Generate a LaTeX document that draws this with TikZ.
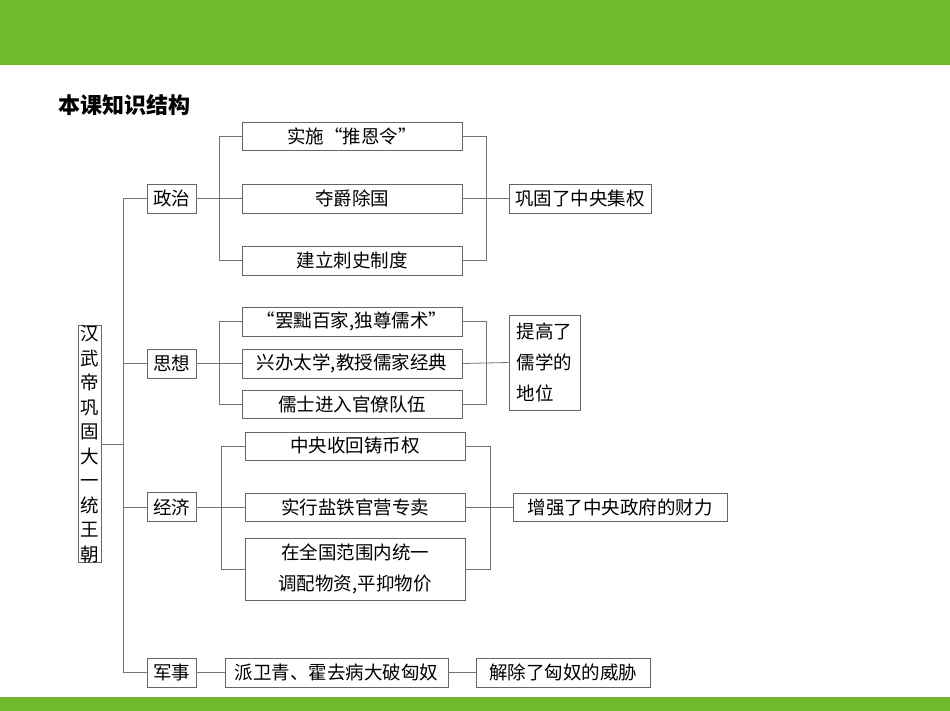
\documentclass[tikz,border=0pt]{standalone}
\usepackage{fontspec}
\setmainfont{Noto Sans CJK SC}
\begin{document}
\begin{tikzpicture}[x=1pt,y=-1pt,
 bx/.style={draw=black!60,line width=0.8pt,inner sep=0pt,font=\fontsize{18.5}{22}\selectfont},
 ln/.style={draw=black!55,line width=0.8pt}]
\useasboundingbox (0,0) rectangle (950,711);
\fill[fill={rgb,255:red,112;green,185;blue,45}] (0,0) rectangle (950,65);
\fill[fill={rgb,255:red,112;green,185;blue,45}] (0,697) rectangle (950,711);
\node[anchor=west,font=\fontsize{22}{26}\selectfont\bfseries] (title) at (55,105) {本课知识结构};
% root
\node[bx,minimum width=23,minimum height=216,align=center,font=\fontsize{18.5}{24.5}\selectfont] (root) at (89.5,444) {汉\\武\\帝\\巩\\固\\大\\一\\统\\王\\朝};
% categories
\node[bx,minimum width=49,minimum height=29] (zz) at (171.5,198.5) {政治};
\node[bx,minimum width=49,minimum height=29] (sx) at (171.5,363.5) {思想};
\node[bx,minimum width=49,minimum height=29] (jj) at (171.5,507) {经济};
\node[bx,minimum width=49,minimum height=29] (js) at (171.5,672.5) {军事};
% politics
\node[bx,minimum width=220,minimum height=28] (z1) at (352,136) {实施“推恩令”};
\node[bx,minimum width=220,minimum height=29] (z2) at (352,198.5) {夺爵除国};
\node[bx,minimum width=220,minimum height=29] (z3) at (352,260.5) {建立刺史制度};
\node[bx,minimum width=142,minimum height=29] (zr) at (580,198.5) {巩固了中央集权};
% thought
\node[bx,minimum width=220,minimum height=29] (s1) at (352,321.5) {“罢黜百家,独尊儒术”};
\node[bx,minimum width=220,minimum height=29] (s2) at (352,363.5) {兴办太学,教授儒家经典};
\node[bx,minimum width=220,minimum height=28] (s3) at (352,404) {儒士进入官僚队伍};
\node[bx,minimum width=71,minimum height=95,align=left,font=\fontsize{18.5}{31}\selectfont] (sr) at (544.5,362.5) {提高了\\儒学的\\地位};
% economy
\node[bx,minimum width=220,minimum height=28] (j1) at (355,446) {中央收回铸币权};
\node[bx,minimum width=220,minimum height=28] (j2) at (355,507) {实行盐铁官营专卖};
\node[bx,minimum width=220,minimum height=62,align=center,font=\fontsize{18.5}{31}\selectfont] (j3) at (355,569) {在全国范围内统一\\调配物资,平抑物价};
\node[bx,minimum width=214,minimum height=28] (jr) at (620,507) {增强了中央政府的财力};
% military
\node[bx,minimum width=223,minimum height=29] (m1) at (336.5,672.5) {派卫青、霍去病大破匈奴};
\node[bx,minimum width=174,minimum height=29] (mr) at (563,672.5) {解除了匈奴的威胁};
% spine
\draw[ln] (root.east) -- (123,444);
\draw[ln] (zz.west) -| (123,672.5) -- (js.west);
\draw[ln] (sx.west) -- (123,363.5);
\draw[ln] (jj.west) -- (123,507);
% politics connectors
\draw[ln] (zz.east) -- (z2.west);
\draw[ln] (z1.west) -- (219,136) -- (219,260.5) -- (z3.west);
\draw[ln] (z1.east) -- (486,136) -- (486,260.5) -- (z3.east);
\draw[ln] (z2.east) -- (zr.west);
% thought connectors
\draw[ln] (sx.east) -- (s2.west);
\draw[ln] (s1.west) -- (219,321.5) -- (219,404) -- (s3.west);
\draw[ln] (s1.east) -- (486,321.5) -- (486,404) -- (s3.east);
\draw[ln] (s2.east) -- (sr.west);
% economy connectors
\draw[ln] (jj.east) -- (j2.west);
\draw[ln] (j1.west) -- (221,446) -- (221,569) -- (j3.west);
\draw[ln] (j1.east) -- (490,446) -- (490,569) -- (j3.east);
\draw[ln] (j2.east) -- (jr.west);
% military
\draw[ln] (js.east) -- (m1.west);
\draw[ln] (m1.east) -- (mr.west);
\end{tikzpicture}
\end{document}
